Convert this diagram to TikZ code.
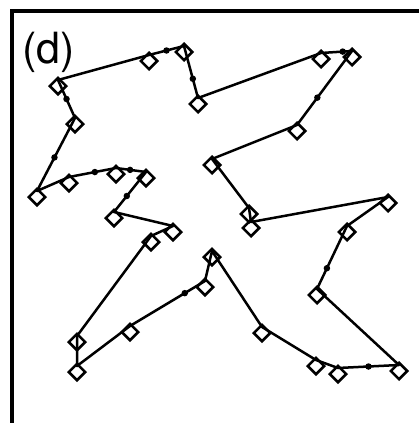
\documentclass[tikz,border=0pt]{standalone}
\usepackage{fontspec}
\setsansfont{TeX Gyre Heros}
\usetikzlibrary{shapes.geometric,calc}
\begin{document}
\begin{tikzpicture}[x=1pt,y=-1pt,
  link/.style={line width=2.5pt,line cap=round,line join=round},
  cell/.style={shape=diamond,draw,line width=2.5pt,inner sep=0pt,
               minimum width=17.5pt,minimum height=17.5pt},
  knot/.style={circle,fill,inner sep=0pt,minimum size=6.5pt},
  frameline/.style={line width=3.2pt}]
\useasboundingbox (0,0) rectangle (419,423);

% panel frame (left and top edges)
\draw[frameline] (12,423) -- (12,11) -- (419,11);

% panel tag
\node[font=\sffamily\fontsize{43}{43}\selectfont,anchor=base west,inner sep=0pt]
  (tag) at (22,63) {(d)};

% city markers: each join point sits just inside the top of its diamond
\foreach \n/\x/\y in {
  1/58/86, 2/149/61, 3/184/52, 4/198/104, 5/321/59, 6/352/57,
  7/297/131, 8/212/165, 9/249/214, 10/251/228, 11/388/203, 12/347/232,
  13/317/295, 14/399/371, 15/338/374, 16/316/366, 17/262/333, 18/212/257,
  19/205/287, 20/130/332, 21/77/372, 22/77/342, 23/151/242, 24/173/232,
  25/114/218, 26/146/178, 27/116/174, 28/69/183, 29/37/197, 30/75/124}{
  \coordinate (p\n) at (\x,\y-6);
  \node[cell] (d\n) at (\x,\y) {};
}

% closed tour
\draw[link] (p1) -- (p2) -- (p3) -- (p4) -- (p5) -- (p6) -- (p7) -- (p8)
  -- (p9) -- (p10) -- (p11) -- (p12) -- (p13) -- (p14) -- (p15) -- (p16)
  -- (p17) -- (p18) -- (p19) -- (p20) -- (p21) -- (p22) -- (p23) -- (p24)
  -- (p25) -- (p26) -- (p27) -- (p28) -- (p29) -- (p30) -- cycle;

% intermediate points on the tour
\node[knot] (k1)  at ($(p30)!0.5!(p1)$) {};
\node[knot] (k2)  at ($(p2)!0.5!(p3)$) {};
\node[knot] (k3)  at ($(p3)!0.63!(p4)$) {};
\node[knot] (k4)  at ($(p5)!0.7!(p6)$) {};
\node[knot] (k5)  at ($(p6)!0.63!(p7)$) {};
\node[knot] (k6)  at ($(p12)!0.67!(p13)$) {};
\node[knot] (k7)  at ($(p14)!0.5!(p15)$) {};
\node[knot] (k8)  at ($(p19)!0.27!(p20)$) {};
\node[knot] (k9)  at ($(p29)!0.46!(p30)$) {};
\node[knot] (k10) at ($(p28)!0.55!(p27)$) {};
\node[knot] (k11) at ($(p27)!0.47!(p26)$) {};
\node[knot] (k12) at ($(p26)!0.6!(p25)$) {};
\end{tikzpicture}
\end{document}
